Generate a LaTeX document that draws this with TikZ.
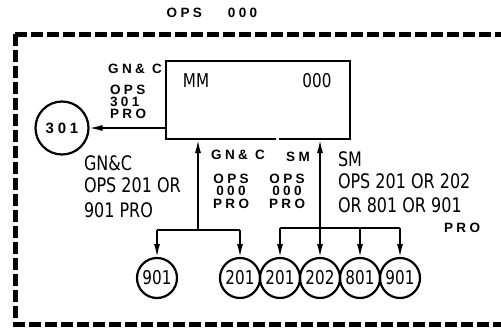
\documentclass[tikz,border=0pt]{standalone}
\usepackage{fontspec}
\usetikzlibrary{arrows.meta}
\newfontfamily\condf[FakeStretch=0.8]{DejaVu Sans}
\newfontfamily\widef[LetterSpace=25]{Liberation Sans}
\begin{document}
\begin{tikzpicture}[x=1pt,y=-1pt,
  every node/.style={inner sep=0pt, outer sep=0pt},
  big/.style={font=\condf\fontsize{20}{24}\selectfont, anchor=west},
  sml/.style={font=\widef\bfseries\fontsize{13.5}{11.8}\selectfont, text height=9.7pt, text depth=0pt},
  num/.style={circle, draw, line width=2.2pt, minimum size=40pt, font=\condf\fontsize{19}{19}\selectfont},
  arr/.style={line width=2pt, -{Latex[length=14pt,width=6pt]}},
  ln/.style={line width=2pt},
  border/.style={line width=5pt, dash pattern=on 12pt off 4pt}]
\useasboundingbox (0,0) rectangle (501,332);
\draw[border] (15,34) -- (520,34);
\draw[border] (15,34) -- (15,324) -- (520,324);
% title
\node[sml] (title) at (212,13) {OPS\hspace{26pt}000};
% main box
\node[minimum width=184pt, minimum height=78pt] (box) at (258,100) {};
\draw[ln] (box.south west) ++(110,0) coordinate (gapa) -- (box.south west) -- (box.north west) -- (box.north east) -- (box.south east) -- ++(-71,0) coordinate (gapb);
\node[font=\condf\fontsize{19}{19}\selectfont] (mm) at (196,81) {MM};
\node[font=\condf\fontsize{19}{19}\selectfont] (ooo) at (317,81) {000};
% left upper labels
\node[sml] (lgnc) at (135,69) {GN\& C};
\node[sml, anchor=west] (lops1) at (110,90) {OPS};
\node[sml, anchor=west] (lops2) at (110,102) {301};
\node[sml, anchor=west] (lops3) at (110,114) {PRO};
\node[circle, draw, line width=2.2pt, minimum size=53pt, font=\widef\bfseries\fontsize{15}{15}\selectfont] (c301) at (62,128) {301};
\draw[arr] (box.west |- c301) -- (c301);
% left lower labels
\node[big] (biggnc) at (84,163) {GN\&C};
\node[big] (ops201) at (84,185) {OPS 201 OR};
\node[big] (pro901) at (84,210) {901 PRO};
% middle labels
\node[sml] (gncs) at (238,155) {GN\& C};
\node[sml] (sms) at (298,157) {SM};
\node[sml] (opsL1) at (231,178.5) {OPS};
\node[sml] (opsL2) at (231,191) {000};
\node[sml] (opsL3) at (231,203.5) {PRO};
\node[sml] (opsR1) at (287,178.5) {OPS};
\node[sml] (opsR2) at (287,191) {000};
\node[sml] (opsR3) at (287,203.5) {PRO};
% right labels
\node[big] (bigsm) at (338,159) {SM};
\node[big] (ops201r) at (338,181) {OPS 201 OR 202};
\node[big] (or801) at (338,205) {OR 801 OR 901};
\node[sml] (pror) at (462,228) {PRO};
% circles
\node[num] (n901a) at (157,278) {901};
\node[num] (n201a) at (240,278) {201};
\node[num] (n201b) at (280,278) {201};
\node[num] (n202) at (320,278) {202};
\node[num] (n801) at (360,278) {801};
\node[num] (n901b) at (400,278) {901};
% left tree
\coordinate (jL) at (198,230);
\draw[arr] (jL) -- (jL |- box.south);
\draw[ln] (n901a |- jL) -- (n201a |- jL);
\draw[arr] (n901a |- jL) -- (n901a);
\draw[arr] (n201a |- jL) -- (n201a);
% right tree
\coordinate (jR) at (320,228);
\draw[arr] (jR) -- (jR |- box.south);
\draw[ln] (n201b |- jR) -- (n901b |- jR);
\draw[arr] (n201b |- jR) -- (n201b);
\draw[arr] (n202 |- jR) -- (n202);
\draw[arr] (n801 |- jR) -- (n801);
\draw[arr] (n901b |- jR) -- (n901b);
\end{tikzpicture}
\end{document}
